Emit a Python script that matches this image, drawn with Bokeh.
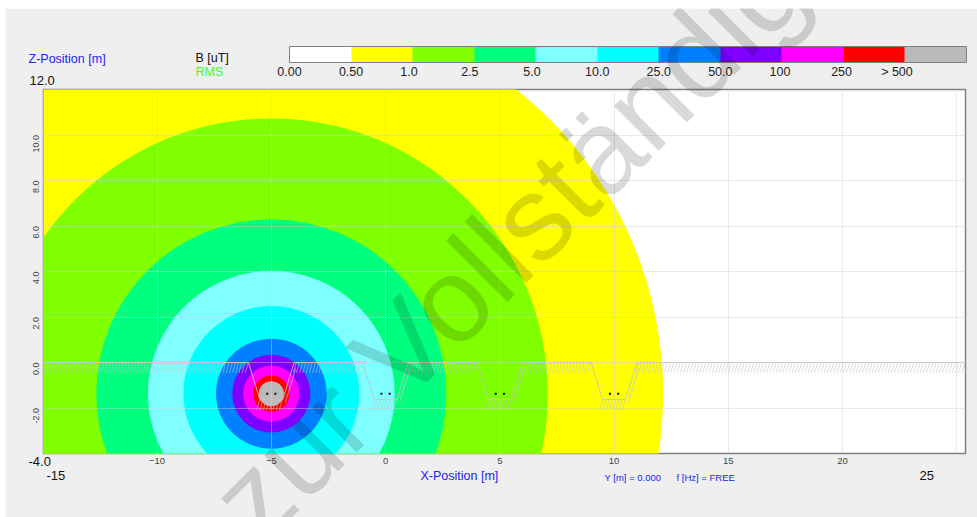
from bokeh.plotting import figure
from bokeh.models import Range1d, FixedTicker, ColorBar, LinearColorMapper, Label, NumeralTickFormatter
from bokeh.embed import file_html
from bokeh.resources import INLINE
import numpy as np

# Field levels, outermost first
level_colors = ["#ffff00", "#7fff00", "#00ff7f", "#7fffff", "#00ffff", "#007fff", "#7f00ff", "#ff00ff", "#ff0000", "#bababa"]
level_radii = [17.15, 12.1, 7.66, 5.4, 3.85, 2.42, 1.71, 1.23, 0.8, 0.55]
source_x = -5.0
source_z = -1.37

scale_colors = ["#ffffff"] + level_colors
scale_ticks = [0, 1, 1.94, 2.93, 3.94, 5, 6, 7, 7.97, 8.97, 9.87]
scale_labels = ["0.00", "0.50", "1.0", "2.5", "5.0", "10.0", "25.0", "50.0", "100", "250", "> 500"]

trench_centers = [-5, 0, 5, 10]
conductor_offset = [-0.18, 0.18]
conductor_z = -1.37
trench_top_half = 1.0
trench_floor_half = 0.5
trench_depth = 1.63

x_ticks = [-10, -5, 0, 5, 10, 15, 20, 25]
z_ticks = [-2, 0, 2, 4, 6, 8, 10]

OX, OY = 5, 8
W, H = 972, 509
LEFT, TOP, FW, FH = 43, 89, 922, 364
PXX, PXZ = 22.85, 22.75
x0 = -14.97

p = figure(width=W, height=H, output_backend="svg", toolbar_location=None,
           x_range=Range1d(x0, x0 + FW / PXX), y_range=Range1d(-4, -4 + FH / PXZ),
           min_border_left=LEFT - OX, min_border_right=W - (LEFT - OX) - FW,
           min_border_top=TOP - OY, min_border_bottom=H - (TOP - OY) - FH,
           border_fill_color="#efefef", background_fill_color="#ffffff",
           outline_line_color="#808080", outline_line_width=1.5)
p.margin = (OY, 0, 0, OX)

for r, c in zip(level_radii, level_colors):
    p.ellipse(x=[source_x], y=[source_z], width=[2 * r], height=[2 * r], fill_color=c, line_color=None)

# Ground hatch and trench outline
GC = "#c4c4c4"
surf_x, surf_z = [x0], [0.0]
for c in trench_centers:
    surf_x += [c - trench_top_half, c - trench_floor_half, c + trench_floor_half, c + trench_top_half]
    surf_z += [0.0, -trench_depth, -trench_depth, 0.0]
surf_x.append(x0 + FW / PXX)
surf_z.append(0.0)
p.line(surf_x, surf_z, line_color=GC, line_width=1, line_alpha=0.9)

x_start, z_start, x_end, z_end = [], [], [], []
STEP, HLEN, HDX = 0.14, 0.46, 0.13
for x in np.arange(x0, x0 + FW / PXX + HDX, STEP):
    if all(abs(x - c) > trench_top_half for c in trench_centers):
        x_start.append(x); z_start.append(0.0); x_end.append(x - HDX); z_end.append(-HLEN)
for c in trench_centers:
    for x in np.arange(c - trench_floor_half, c + trench_floor_half + 0.01, STEP):
        x_start.append(x); z_start.append(-trench_depth); x_end.append(x - HDX); z_end.append(-trench_depth - HLEN)
    for z in np.arange(-trench_depth + 0.25, -0.1, 0.28):
        xw = c + trench_floor_half + (trench_top_half - trench_floor_half) * (z + trench_depth) / trench_depth
        x_start.append(xw + 0.14); z_start.append(z); x_end.append(xw + 0.04); z_end.append(z - 0.4)
p.segment(x_start, z_start, x_end, z_end, line_color=GC, line_width=1, line_alpha=0.6)

dot_x = [c + o for c in trench_centers for o in conductor_offset]
dot_z = [conductor_z] * len(dot_x)
p.scatter(dot_x, dot_z, marker="square", size=2, fill_color="#111111", line_color=None)

# Axes and grid
p.xaxis.ticker = FixedTicker(ticks=x_ticks)
p.xaxis.major_label_overrides = {25: ""}
p.yaxis.ticker = FixedTicker(ticks=z_ticks)
p.yaxis.formatter = NumeralTickFormatter(format="0.0")
for ax in (p.xaxis, p.yaxis):
    ax.axis_line_color = None
    ax.major_tick_line_color = None
    ax.minor_tick_line_color = None
    ax.major_label_text_font = "Liberation Sans"
    ax.major_label_text_color = "#444444"
    ax.major_label_standoff = 2
p.xaxis.major_label_standoff = -2
p.xaxis.major_label_text_font_size = "9.5px"
p.yaxis.major_label_text_font_size = "9px"
p.yaxis.major_label_orientation = np.pi / 2
p.grid.level = "guide"
p.grid.grid_line_color = "#d0d0d0"
p.grid.grid_line_alpha = 0.45
p.grid.grid_line_width = 1

# Colour scale
mapper = LinearColorMapper(palette=scale_colors, low=0, high=len(scale_colors))
cb = ColorBar(color_mapper=mapper, ticker=FixedTicker(ticks=scale_ticks),
              major_label_overrides=dict(zip(scale_ticks, scale_labels)),
              location=(289 - LEFT, TOP + FH - 81), orientation="horizontal",
              width=677, height=16, padding=0, margin=0,
              major_tick_line_color=None, minor_tick_line_color=None,
              bar_line_color="#808080", border_line_color=None, background_fill_color=None,
              major_label_text_font="Liberation Sans", major_label_text_font_size="12.5px",
              major_label_text_color="#222222", label_standoff=2)
p.add_layout(cb, "center")

# Transparent overlay: a frame as large as the canvas, so free texts are not clipped to the plot area
q = figure(width=W, height=H, output_backend="svg", toolbar_location=None,
           x_range=Range1d(0, W), y_range=Range1d(H, 0),
           min_border_left=0, min_border_right=0, min_border_top=0, min_border_bottom=0,
           x_axis_location=None, y_axis_location=None,
           border_fill_color=None, background_fill_color=None, outline_line_color=None)
q.grid.visible = False
q.styles = {"position": "absolute", "left": f"{OX}px", "top": f"{OY}px", "pointer-events": "none"}

def put(text, px, py, color="#000000", size="12.5px"):
    q.add_layout(Label(x=px - OX, y=py - OY, x_units="data", y_units="data", text=text,
                       text_color=color, text_font="Liberation Sans", text_font_size=size,
                       text_align="left", text_baseline="middle"))

BLUE = "#2222ee"
put("Z-Position [m]", 28, 58, BLUE)
put("B [uT]", 195, 57, "#111111")
put("RMS", 195, 71, "#33ff33")
put("12.0", 29, 80, "#111111", "13px")
put("-4.0", 28, 461, "#111111", "13px")
put("-15", 46, 475, "#111111", "13px")
put("25", 919, 475, "#111111", "13px")
put("X-Position [m]", 420, 475, BLUE)
put("Y [m] = 0.000", 604, 477, BLUE, "9.5px")
put("f [Hz] = FREE", 676, 477, BLUE, "9.5px")

# Watermark
q.add_layout(Label(x=231 - OX, y=518 - OY, x_units="data", y_units="data",
                   text="zur Vollständig", angle=45, angle_units="deg",
                   text_color="#000000", text_alpha=0.15, text_font="Liberation Sans",
                   text_font_size="120px", text_baseline="alphabetic", text_align="left"))

open("out.html", "w").write(file_html([p, q], INLINE))
